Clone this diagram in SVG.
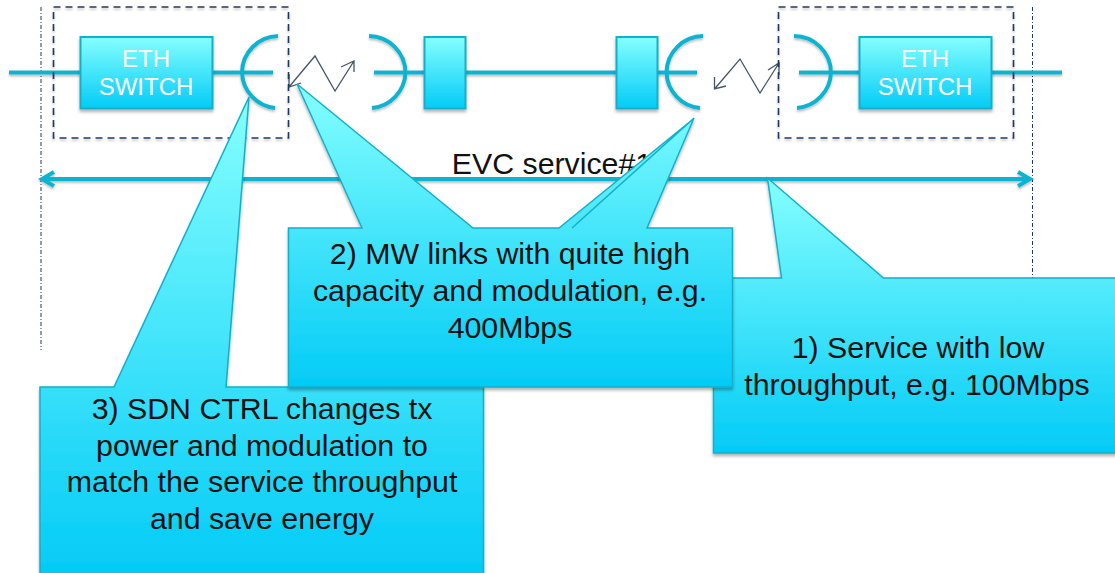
<svg xmlns="http://www.w3.org/2000/svg" width="1115" height="573" viewBox="0 0 1115 573">
<style>
.ln{fill:none;stroke:#0FB4D2;stroke-width:4}
.box{fill:url(#g);stroke:#14AFCB;stroke-width:2}
.call{fill:url(#g);stroke:#14AFCB;stroke-width:1.5}
.dash{fill:none;stroke:#1F3864;stroke-width:1.6;stroke-dasharray:7 5}
.dot{fill:none;stroke:#1F3864;stroke-width:1;stroke-dasharray:4 2 1 2}
.zig{fill:none;stroke:#44546A;stroke-width:1.3}
text{font-family:"Liberation Sans",Arial,sans-serif;text-anchor:middle}
.w{fill:#fff;font-size:24px}
.k{fill:#111;font-size:30.300px}
</style>
<defs>
<linearGradient id="g" x1="0" y1="0" x2="0" y2="1"><stop offset="0" stop-color="#85FFFF"/><stop offset="1" stop-color="#03CBF6"/></linearGradient>
<filter id="s" x="-10%" y="-10%" width="120%" height="125%"><feDropShadow dx="0" dy="2.5" stdDeviation="1.5" flood-color="#000" flood-opacity="0.3"/></filter>
<filter id="sl" filterUnits="userSpaceOnUse" x="0" y="0" width="1115" height="573"><feDropShadow dx="0" dy="2" stdDeviation="1.2" flood-color="#000" flood-opacity="0.25"/></filter>
</defs>
<g id="connectors">
<path class="dot" d="M41 7V350M1032.500 7V278"/>
<g filter="url(#sl)">
<path class="ln" d="M9 72.500H80M212 72.500H273M374 72.500H424M465 72.500H616M799 72.500H859M992 72.500H1062M657 72.500H697"/>
<path class="ln" d="M278 36A37 37 0 0 0 242 72.500A37 37 0 0 0 275 108"/>
<path class="ln" d="M369 36A37 37 0 0 1 405.500 72.500A37 37 0 0 1 372 108"/>
<path class="ln" d="M703 36A37 37 0 0 0 666.500 72.500A37 37 0 0 0 700 108"/>
<path class="ln" d="M794 36A37 37 0 0 1 831 72.500A37 37 0 0 1 797 108"/>
<path class="ln" d="M43 179H1030M54 172L42 179L54 186M1018 172L1030 179L1018 186"/>
</g>
<path class="zig" d="M354 61L335 91L315 56L289 87M289 74V87L301 83M341 67L354 61L354 72"/>
<path class="zig" d="M779 63L760 93L740 59L714.500 89M714.500 77L714.500 89L726 86M768 70L779 63L779 75"/>
</g>
<g id="switch-left-group">
<rect class="dash" x="53.500" y="7" width="235" height="131" filter="url(#sl)"/>
<g id="switch-left"><rect class="box" x="80.500" y="37" width="132" height="71.500" filter="url(#s)"/>
<text class="w" x="146" y="67">ETH</text><text class="w" x="146" y="95">SWITCH</text></g>
</g>
<rect id="repeater-left" class="box" x="424.500" y="37" width="41" height="71.500" filter="url(#s)"/>
<rect id="repeater-right" class="box" x="616.500" y="37" width="41" height="71.500" filter="url(#s)"/>
<g id="switch-right-group">
<rect class="dash" x="778.500" y="7" width="235" height="131" filter="url(#sl)"/>
<g id="switch-right"><rect class="box" x="859.500" y="37" width="132" height="71.500" filter="url(#s)"/>
<text class="w" x="925" y="67">ETH</text><text class="w" x="925" y="95">SWITCH</text></g>
</g>
<text id="evc-label" class="k" x="552" y="174">EVC service#1</text>
<g id="callout-1">
<path class="call" filter="url(#s)" d="M713.500 278H781.500L767.500 178L883.500 278H1117V453H713.500Z"/>
<text class="k" x="918" y="358">1) Service with low</text>
<text class="k" x="917" y="395">throughput, e.g. 100Mbps</text>
</g>
<g id="callout-3">
<path class="call" filter="url(#s)" d="M40 387H114L249 97L226 387H483.500V576H40Z"/>
<text class="k" x="262" y="419">3) SDN CTRL changes tx</text>
<text class="k" x="262" y="456">power and modulation to</text>
<text class="k" x="262" y="492">match the service throughput</text>
<text class="k" x="262" y="529">and save energy</text>
</g>
<g id="callout-2">
<path class="call" filter="url(#s)" d="M288.500 228H362L297 84L473 228H559L692 120L572 228L694 118L647 228H732.500V387H288.500Z"/>
<text class="k" x="510" y="264">2) MW links with quite high</text>
<text class="k" x="510" y="301">capacity and modulation, e.g.</text>
<text class="k" x="510" y="338">400Mbps</text>
</g>
</svg>
